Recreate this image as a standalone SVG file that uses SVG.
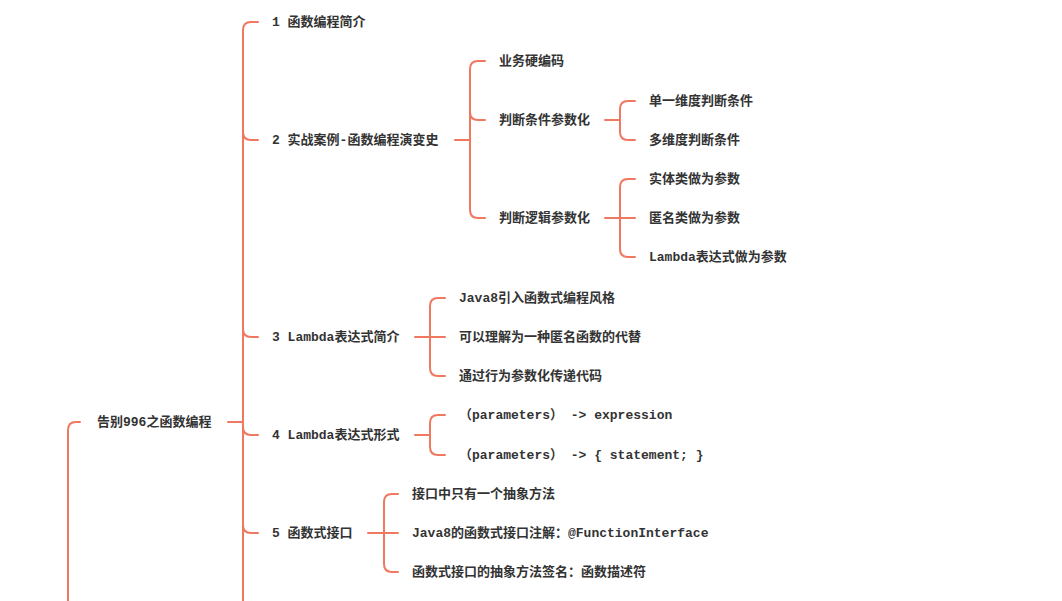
<svg xmlns="http://www.w3.org/2000/svg" width="1062" height="601" viewBox="0 0 1062 601">
<style>
text{font-family:"Liberation Mono","Noto Sans CJK SC",monospace;font-size:13px;font-weight:bold;fill:#333;dominant-baseline:central}
.c path{fill:none;stroke:#f07860;stroke-width:2;stroke-linecap:round}
</style>
<rect width="1062" height="601" fill="#fff"/>
<g class="c">
<path d="M80 422 H76 Q68 422 68 430 V610"/>
<path d="M228 422 H243"/>
<path d="M258 22 H251 Q243 22 243 30 V610"/>
<path d="M243 132 Q243 140 251 140 H258"/>
<path d="M243 329 Q243 337 251 337 H258"/>
<path d="M243 427 Q243 435 251 435 H258"/>
<path d="M243 525 Q243 533 251 533 H258"/>
<path d="M455 140 H470"/>
<path d="M485 61 H478 Q470 61 470 69 V210 Q470 218 478 218 H485"/>
<path d="M470 112 Q470 120 478 120 H485"/>
<path d="M605 120 H620"/>
<path d="M635 101 H628 Q620 101 620 109 V132 Q620 140 628 140 H635"/>
<path d="M605 218 H620"/>
<path d="M635 179 H628 Q620 179 620 187 V249 Q620 257 628 257 H635"/>
<path d="M620 218 H635"/>
<path d="M415 337 H430"/>
<path d="M445 298 H438 Q430 298 430 306 V368 Q430 376 438 376 H445"/>
<path d="M430 337 H445"/>
<path d="M415 435 H430"/>
<path d="M445 415 H438 Q430 415 430 423 V447 Q430 455 438 455 H445"/>
<path d="M368 533 H384"/>
<path d="M398 494 H392 Q384 494 384 502 V564 Q384 572 392 572 H398"/>
<path d="M384 533 H398"/>
</g>
<g id="root"><text x="97" y="422">告别996之函数编程</text></g>
<g id="n1"><text x="272" y="22">1 函数编程简介</text></g>
<g id="n2"><text x="272" y="140">2 实战案例-函数编程演变史</text></g>
<g id="n21"><text x="499" y="61">业务硬编码</text></g>
<g id="n22"><text x="499" y="120">判断条件参数化</text></g>
<g id="n221"><text x="649" y="101">单一维度判断条件</text></g>
<g id="n222"><text x="649" y="140">多维度判断条件</text></g>
<g id="n23"><text x="499" y="218">判断逻辑参数化</text></g>
<g id="n231"><text x="649" y="179">实体类做为参数</text></g>
<g id="n232"><text x="649" y="218">匿名类做为参数</text></g>
<g id="n233"><text x="649" y="257">Lambda表达式做为参数</text></g>
<g id="n3"><text x="272" y="337">3 Lambda表达式简介</text></g>
<g id="n31"><text x="459" y="298">Java8引入函数式编程风格</text></g>
<g id="n32"><text x="459" y="337">可以理解为一种匿名函数的代替</text></g>
<g id="n33"><text x="459" y="376">通过行为参数化传递代码</text></g>
<g id="n4"><text x="272" y="435">4 Lambda表达式形式</text></g>
<g id="n41"><text x="459" y="415">（parameters） -&gt; expression</text></g>
<g id="n42"><text x="459" y="455">（parameters） -&gt; { statement; }</text></g>
<g id="n5"><text x="272" y="533">5 函数式接口</text></g>
<g id="n51"><text x="412" y="494">接口中只有一个抽象方法</text></g>
<g id="n52"><text x="412" y="533">Java8的函数式接口注解：@FunctionInterface</text></g>
<g id="n53"><text x="412" y="572">函数式接口的抽象方法签名：函数描述符</text></g>
</svg>
